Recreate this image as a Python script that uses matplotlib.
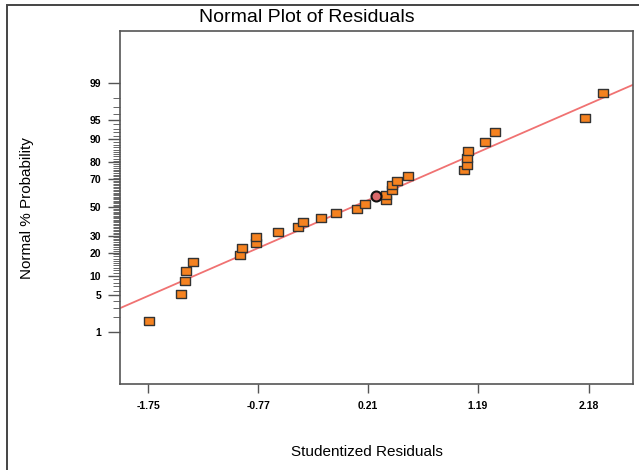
import numpy as np
import matplotlib
matplotlib.use('Agg')
import matplotlib.pyplot as plt
from matplotlib.patches import Rectangle
from statistics import NormalDist

plt.rcParams['font.family'] = ['Liberation Sans', 'DejaVu Sans']

# studentized residuals (x) and normal % probability (y)
resid = [-1.746, -1.458, -1.421, -1.414, -1.348, -0.932, -0.917, -0.789, -0.789, -0.593,
         -0.414, -0.372, -0.212, -0.075, 0.115, 0.186, 0.368, 0.371, 0.422, 0.423,
         0.472, 0.566, 1.067, 1.091, 1.091, 1.103, 1.252, 1.341, 2.147, 2.310]
prob = [1.7, 5.2, 8.6, 11.9, 15.5, 18.8, 22.2, 25.6, 29.0, 32.5,
        35.9, 39.2, 42.5, 45.8, 49.2, 52.6, 55.5, 59.0, 62.5, 66.0,
        69.3, 72.5, 75.6, 78.9, 82.2, 85.4, 88.8, 92.0, 95.3, 98.4]
# highlighted point
hl_resid = [0.279]
hl_prob = [58.7]

# reference line (mean, sd of the fitted normal)
line_mean = 0.06
line_sd = 1.096

x_ticks = [-1.75, -0.77, 0.21, 1.19, 2.18]
y_major = [1, 5, 10, 20, 30, 50, 70, 80, 90, 95, 99]
y_minor = [p for p in range(1, 100) if p not in y_major]

nd = NormalDist()


def to_z(p):
    p = np.clip(np.asarray(p, dtype=float) / 100.0, 1e-7, 1 - 1e-7)
    return np.vectorize(nd.inv_cdf, otypes=[float])(p)


def to_p(z):
    return np.vectorize(nd.cdf, otypes=[float])(np.asarray(z, dtype=float)) * 100.0


W, H = 639, 470
fig = plt.figure(figsize=(W / 100, H / 100), dpi=100)
ax = fig.add_axes([120 / W, 1 - 384 / H, (633 - 120) / W, (384 - 31) / H])

ax.set_yscale('function', functions=(to_z, to_p))
ax.set_xlim(-2.003, 2.575)
ax.set_ylim(to_p(-3.30), to_p(3.30))

# fitted line
lx = np.array(ax.get_xlim())
ly = to_p((lx - line_mean) / line_sd)
ax.plot(lx, ly, color='#f07272', lw=1.3, zorder=2)

rect = [(-1, -0.75), (1, -0.75), (1, 0.75), (-1, 0.75), (-1, -0.75)]
ax.plot(resid, prob, ls='none', marker=rect, markersize=7.4,
        markerfacecolor='#f58220', markeredgecolor='#333333', markeredgewidth=1.0, zorder=3)
ax.plot(hl_resid, hl_prob, ls='none', marker='o', markersize=7.2,
        markerfacecolor='#d9686a', markeredgecolor='#111111', markeredgewidth=1.5, zorder=4)

ax.set_xticks(x_ticks)
ax.set_xticklabels(['%.2f' % v for v in x_ticks])
ax.set_yticks(y_major)
ax.set_yticklabels([str(v) for v in y_major])
ax.set_yticks(y_minor, minor=True)
ax.xaxis.set_minor_locator(matplotlib.ticker.NullLocator())

ax.tick_params(axis='x', which='major', length=6.5, width=1, color='#555555', pad=5.5,
               labelsize=7.5)
ax.tick_params(axis='y', which='major', length=8.6, width=1, color='#555555', pad=5,
               labelsize=7.5)
ax.tick_params(axis='y', which='minor', length=5, width=0.7, color='#666666')
for lab in ax.get_xticklabels() + ax.get_yticklabels():
    lab.set_fontweight('bold')

for s in ax.spines.values():
    s.set_color('#555555')
    s.set_linewidth(1.2)

fig.text(307 / W, 1 - 18 / H, 'Normal Plot of Residuals', ha='center', va='center',
         fontsize=14)
fig.text(367 / W, 1 - 452 / H, 'Studentized Residuals', ha='center', va='center',
         fontsize=11)
fig.text(27 / W, 1 - 208 / H, 'Normal % Probability', ha='center', va='center',
         rotation=90, fontsize=11)

# outer frame
fig.patches.append(Rectangle((7 / W, -0.1), 1.2, 1.1 - 5 / H, transform=fig.transFigure,
                             fill=False, edgecolor='#444444', lw=1.4))

fig.savefig('out.png', dpi=100)
